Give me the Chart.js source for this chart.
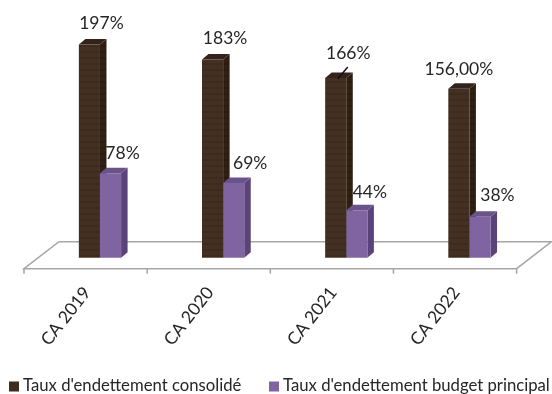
<!DOCTYPE html>
<html>
<head>
<meta charset="utf-8">
<style>
  html, body { margin: 0; padding: 0; background: #fff; }
  #wrap { width: 552px; height: 394px; }
</style>
<script src="https://cdn.jsdelivr.net/npm/chart.js@4/dist/chart.umd.min.js"></script>
</head>
<body>
<div id="wrap"><canvas id="debtChart" width="552" height="394"></canvas></div>
<script>
const categories = ['CA 2019', 'CA 2020', 'CA 2021', 'CA 2022'];
const consolidated = [197, 183, 166, 156];
const mainBudget = [78, 69, 44, 38];
const consolidatedLabels = ['197%', '183%', '166%', '156,00%'];
const mainBudgetLabels = ['78%', '69%', '44%', '38%'];

const FONT = 'Lato, sans-serif';
const TEXT = '#262626';

// label nudges from the bar's top centre
const consolidatedNudge = [[12, -21], [12.5, -21], [12.5, -24.5], [0, -19]];
const mainBudgetNudge = [[12, -20], [16.5, -20], [13, -18], [17.5, -21]];

// horizontal banding of the dark bars
function stripes(a, b) {
    const c = document.createElement('canvas');
    c.width = 4;
    c.height = 6;
    const g = c.getContext('2d');
    g.fillStyle = a;
    g.fillRect(0, 0, 4, 6);
    g.fillStyle = b;
    g.fillRect(0, 3, 4, 2);
    return g.createPattern(c, 'repeat');
}

const darkFront = stripes('#433022', '#3d2b1e');
const darkSide = stripes('#2f2012', '#2a1c10');

// 3D floor plate, shifted off the chart area
const floorPlate = {
    id: 'floorPlate',
    beforeDatasetsDraw(chart) {
        const { ctx } = chart;
        const x = chart.scales.x;
        const front = chart.chartArea.bottom;
        const back = front - 27;
        const shift = 14.4;
        const left = x.left - shift;
        const right = x.right - shift;
        ctx.save();
        ctx.strokeStyle = '#a6a6a6';
        ctx.lineWidth = 1.5;
        ctx.beginPath();
        ctx.moveTo(left, front);
        ctx.lineTo(left + 35, back);
        ctx.lineTo(right + 35, back);
        ctx.lineTo(right, front);
        ctx.closePath();
        const step = (right - left) / categories.length;
        for (let i = 0; i <= categories.length; i++) {
            ctx.moveTo(left + i * step, front);
            ctx.lineTo(left + i * step, front + 5);
        }
        ctx.stroke();
        ctx.restore();
    }
};

// side and top faces of the bars
const barFaces = {
    id: 'barFaces',
    beforeDatasetsDraw(chart) {
        const { ctx } = chart;
        const dx = 6.5, dy = 5.5;
        const faces = [[darkSide, '#33231a'], ['#5a4378', '#6b5289']];
        faces.forEach((colors, d) => {
            chart.getDatasetMeta(d).data.forEach(bar => {
                const right = bar.x + bar.width / 2;
                const left = bar.x - bar.width / 2;
                ctx.fillStyle = colors[0];
                ctx.beginPath();
                ctx.moveTo(right, bar.y);
                ctx.lineTo(right + dx, bar.y - dy);
                ctx.lineTo(right + dx, bar.base - dy);
                ctx.lineTo(right, bar.base);
                ctx.closePath();
                ctx.fill();
                ctx.fillStyle = colors[1];
                ctx.beginPath();
                ctx.moveTo(left, bar.y);
                ctx.lineTo(left + dx, bar.y - dy);
                ctx.lineTo(right + dx, bar.y - dy);
                ctx.lineTo(right, bar.y);
                ctx.closePath();
                ctx.fill();
            });
        });
    }
};

const valueLabels = {
    id: 'valueLabels',
    afterDatasetsDraw(chart) {
        const { ctx } = chart;
        ctx.save();
        ctx.font = '17.5px ' + FONT;
        ctx.fillStyle = TEXT;
        ctx.textAlign = 'center';
        ctx.textBaseline = 'middle';
        [[consolidatedLabels, consolidatedNudge], [mainBudgetLabels, mainBudgetNudge]].forEach((set, d) => {
            chart.getDatasetMeta(d).data.forEach((bar, i) => {
                ctx.fillText(set[0][i], bar.x + set[1][i][0], bar.y + set[1][i][1]);
            });
        });
        // leader line for the 2021 label
        const bar = chart.getDatasetMeta(0).data[2];
        ctx.strokeStyle = '#111';
        ctx.lineWidth = 1.5;
        ctx.beginPath();
        ctx.moveTo(bar.x + 2, bar.y + 1);
        ctx.lineTo(bar.x + 12, bar.y - 11);
        ctx.stroke();
        ctx.restore();
    }
};

// bottom legend, spread wider than the built-in one allows
const legendRow = {
    id: 'legendRow',
    afterDraw(chart) {
        const { ctx } = chart;
        const starts = [9, 269];
        const swatches = ['#3f2d1f', '#8064a2'];
        ctx.save();
        ctx.font = '16.7px ' + FONT;
        ctx.fillStyle = TEXT;
        ctx.textBaseline = 'alphabetic';
        chart.data.datasets.forEach((ds, i) => {
            ctx.fillStyle = swatches[i];
            ctx.fillRect(starts[i], 381.5, 10, 10);
            ctx.fillStyle = TEXT;
            ctx.fillText(ds.label, starts[i] + 14, 391);
        });
        ctx.restore();
    }
};

new Chart(document.getElementById('debtChart'), {
    type: 'bar',
    data: {
        labels: categories,
        datasets: [
            { label: "Taux d'endettement consolidé", data: consolidated, backgroundColor: darkFront },
            { label: "Taux d'endettement budget principal", data: mainBudget, backgroundColor: '#8064a2' }
        ]
    },
    plugins: [floorPlate, barFaces, valueLabels, legendRow],
    options: {
        responsive: false,
        animation: false,
        layout: { padding: { left: 38.4, right: 21, top: 0, bottom: 0 } },
        datasets: { bar: { categoryPercentage: 0.343, barPercentage: 1 } },
        scales: {
            x: {
                grid: { display: false },
                border: { display: false },
                afterFit(scale) { scale.height = 125.3; },
                ticks: {
                    minRotation: 52,
                    maxRotation: 52,
                    padding: 6,
                    labelOffset: -13,
                    color: TEXT,
                    font: { family: FONT, size: 17.5 }
                }
            },
            y: { display: false, min: -10, max: 238 }
        },
        plugins: {
            tooltip: { enabled: false },
            legend: { display: false }
        }
    }
});
</script>
</body>
</html>
